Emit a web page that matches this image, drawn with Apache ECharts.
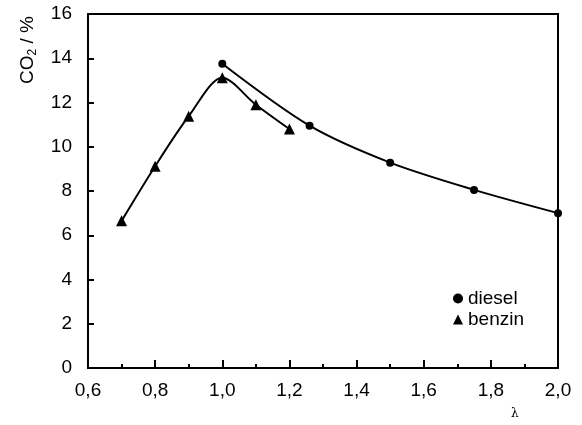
<!DOCTYPE html>
<html>
<head>
<meta charset="utf-8">
<script src="https://cdn.jsdelivr.net/npm/echarts@6/dist/echarts.min.js"></script>
<style>
  html, body { margin: 0; padding: 0; background: #fff; }
  #chart { width: 582px; height: 425px; }
</style>
</head>
<body>
<div id="chart"></div>
<script>
const dieselLambda = [1.0, 1.26, 1.5, 1.75, 2.0]
const dieselCO2 = [13.75, 10.95, 9.28, 8.05, 7.0]
const benzinLambda = [0.7, 0.8, 0.9, 1.0, 1.1, 1.2]
const benzinCO2 = [6.65, 9.12, 11.38, 13.12, 11.9, 10.8]

const pairs = (xs, ys) => xs.map((x, i) => [x, ys[i]])
const font = 'Liberation Sans, Arial, sans-serif'

const chart = echarts.init(document.getElementById('chart'))
chart.setOption({
  animation: false,
  grid: {
    left: 88, right: 24, top: 14, bottom: 57,
    show: true, borderColor: '#000', borderWidth: 2
  },
  legend: {
    orient: 'vertical',
    left: 448, top: 284,
    itemWidth: 10, itemHeight: 10, itemGap: 2, itemTextGap: 8,
    textStyle: { fontFamily: font, fontSize: 19, color: '#000' },
    data: [
      { name: 'diesel', icon: 'circle', itemStyle: { color: '#000' } },
      { name: 'benzin', icon: 'triangle', itemStyle: { color: '#000' } }
    ]
  },
  xAxis: {
    type: 'value', min: 0.6, max: 2.0, interval: 0.2,
    axisLine: { lineStyle: { color: '#000', width: 2 } },
    axisTick: { inside: true, length: 8, lineStyle: { color: '#000', width: 2 } },
    minorTick: { show: true, splitNumber: 2, length: 4, lineStyle: { color: '#000', width: 2 } },
    splitLine: { show: false },
    axisLabel: {
      fontFamily: font, fontSize: 19, color: '#000', margin: 13,
      formatter: v => v.toFixed(1).replace('.', ',')
    }
  },
  yAxis: {
    type: 'value', min: 0, max: 16, interval: 2,
    axisLine: { lineStyle: { color: '#000', width: 2 } },
    axisTick: { inside: true, length: 6, lineStyle: { color: '#000', width: 2 } },
    splitLine: { show: false },
    axisLabel: { fontFamily: font, fontSize: 19, color: '#000', margin: 16 }
  },
  graphic: [
    {
      type: 'text', x: 17, y: 84, rotation: Math.PI / 2,
      style: {
        text: '{a|CO}{b|2}{a| / %}',
        rich: {
          a: { fontFamily: font, fontSize: 19, fill: '#000' },
          b: { fontFamily: font, fontSize: 12, fill: '#000', padding: [10, 0, 0, 0] }
        }
      }
    },
    {
      type: 'text', x: 511, y: 408,
      style: { text: 'λ', fontFamily: 'DejaVu Serif, serif', fontSize: 12, fill: '#000' }
    }
  ],
  series: [
    {
      name: 'diesel', type: 'line', smooth: 0.3,
      data: pairs(dieselLambda, dieselCO2),
      symbol: 'circle', symbolSize: 8,
      lineStyle: { color: '#000', width: 2 },
      itemStyle: { color: '#000' }
    },
    {
      name: 'benzin', type: 'line', smooth: 0.3,
      data: pairs(benzinLambda, benzinCO2),
      symbol: 'triangle', symbolSize: 11,
      lineStyle: { color: '#000', width: 2 },
      itemStyle: { color: '#000' }
    }
  ]
})
</script>
</body>
</html>
